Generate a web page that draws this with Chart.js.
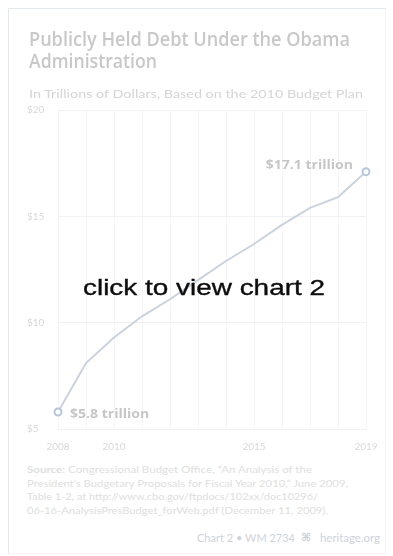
<!DOCTYPE html>
<html><head><meta charset="utf-8">
<script src="https://cdn.jsdelivr.net/npm/chart.js@4.4.0/dist/chart.umd.min.js"></script>
<style>
html,body{margin:0;padding:0;background:#fff;}
#wrap{position:relative;width:393px;height:556px;overflow:hidden;background:#fff;}
#frame{position:absolute;left:8px;top:8px;width:378px;height:546px;border-left:1px solid #e3e8ef;border-top:1px solid #e3e8ef;border-right:1px solid #f3f5f7;border-bottom:1px solid #f3f5f7;box-sizing:border-box;}
.t{position:absolute;white-space:nowrap;transform-origin:0 0;line-height:1;}
canvas{position:absolute;left:0;top:0;}
</style></head>
<body>
<div id="wrap">
<div id="frame"></div>
<canvas id="c" width="393" height="460"></canvas>
<div class="t" data-w="321" style="left:29px;top:25px;font:600 20px 'Open Sans';color:#c8c8c8;">Publicly Held Debt Under the Obama</div>
<div class="t" data-w="128" style="left:29px;top:47px;font:600 20px 'Open Sans';color:#c8c8c8;">Administration</div>
<div class="t" data-w="334" style="left:29px;top:86px;font:400 12px 'Lato';color:#d5d5d5;">In Trillions of Dollars, Based on the 2010 Budget Plan</div>
<div class="t" data-w="285" style="left:27px;top:463px;font:400 10px 'Lato';color:#dedede;"><b>Source:</b> Congressional Budget Office, “An Analysis of the</div>
<div class="t" data-w="321" style="left:27px;top:476.5px;font:400 10px 'Lato';color:#dedede;">President’s Budgetary Proposals for Fiscal Year 2010,” June 2009,</div>
<div class="t" data-w="291" style="left:27px;top:490px;font:400 10px 'Lato';color:#dedede;">Table 1-2, at http://www.cbo.gov/ftpdocs/102xx/doc10296/</div>
<div class="t" data-w="301" style="left:27px;top:503.5px;font:400 10px 'Lato';color:#dedede;">06-16-AnalysisPresBudget_forWeb.pdf (December 11, 2009).</div>
<div class="t" data-w="98" style="left:197px;top:531px;font:400 11px 'Lato';color:#ced3da;">Chart 2 • WM 2734</div>
<div class="t" style="left:301px;top:531px;font:700 11px 'DejaVu Sans';color:#c9cfd8;">⌘</div>
<div class="t" data-w="60" style="left:320px;top:531px;font:400 11px 'Lato';color:#ced3da;">heritage.org</div>
<div class="t" data-w="242" style="left:83px;top:274.5px;font:400 22px 'Liberation Sans';color:#0c0c0c;-webkit-text-stroke:0.35px #0c0c0c;">click to view chart 2</div>
</div>
<script>
const years = ['2008','2009','2010','2011','2012','2013','2014','2015','2016','2017','2018','2019'];
const debt = [5.8, 8.1, 9.3, 10.3, 11.1, 12.0, 12.9, 13.7, 14.6, 15.4, 15.9, 17.1];
const shownYears = ['2008','2010','2015','2019'];
const yMin = 5, yMax = 20, yStep = 5;
const endLabels = ['$5.8 trillion', '$17.1 trillion'];

document.querySelectorAll('.t[data-w]').forEach(el => {
  const w = el.getBoundingClientRect().width;
  const target = parseFloat(el.dataset.w);
  el.style.transform = 'scaleX(' + (target / w) + ')';
});

const endLabelPlugin = {
  id: 'endLabels',
  afterDatasetsDraw(chart) {
    const ctx = chart.ctx;
    const pts = chart.getDatasetMeta(0).data;
    const first = pts[0], last = pts[pts.length - 1];
    const sx = 1.22;
    ctx.save();
    ctx.fillStyle = '#c6c6c6';
    ctx.font = "700 11.5px 'Open Sans'";
    ctx.textBaseline = 'alphabetic';
    ctx.save();
    ctx.translate(first.x + 12, first.y + 6);
    ctx.scale(sx, 1);
    ctx.textAlign = 'left';
    ctx.fillText(endLabels[0], 0, 0);
    ctx.restore();
    ctx.save();
    ctx.translate(last.x - 13, last.y - 3);
    ctx.scale(sx, 1);
    ctx.textAlign = 'right';
    ctx.fillText(endLabels[1], 0, 0);
    ctx.restore();
    ctx.restore();
  }
};

new Chart(document.getElementById('c'), {
  type: 'line',
  data: {
    labels: years,
    datasets: [{
      data: debt,
      borderColor: '#c9d2de',
      borderWidth: 2,
      tension: 0,
      pointRadius: ctx => (ctx.dataIndex === 0 || ctx.dataIndex === debt.length - 1) ? 3.5 : 0,
      pointBackgroundColor: '#ffffff',
      pointBorderColor: '#b7c5d8',
      pointBorderWidth: 2
    }]
  },
  options: {
    responsive: false,
    animation: false,
    events: [],
    layout: { padding: { left: 27, right: 27, top: 110, bottom: 0 } },
    plugins: { legend: { display: false }, tooltip: { enabled: false } },
    scales: {
      x: {
        offset: false,
        grid: { color: '#f4f5f7', drawTicks: false },
        border: { display: false },
        ticks: {
          autoSkip: false, maxRotation: 0, padding: 12,
          font: { family: 'Lato', size: 10 }, color: '#d8d8d8',
          callback: (v, i) => shownYears.includes(years[i]) ? years[i] : ''
        },
        afterFit: s => { s.height = 31; }
      },
      y: {
        min: yMin, max: yMax,
        grid: { color: '#eff1f4', drawTicks: false },
        border: { display: false },
        ticks: {
          stepSize: yStep, padding: 4, crossAlign: 'far',
          font: { family: 'Lato', size: 10 }, color: '#d8d8d8',
          callback: v => '$' + v
        },
        afterFit: s => { s.width = 31; }
      }
    }
  },
  plugins: [endLabelPlugin]
});
</script>
</body></html>
